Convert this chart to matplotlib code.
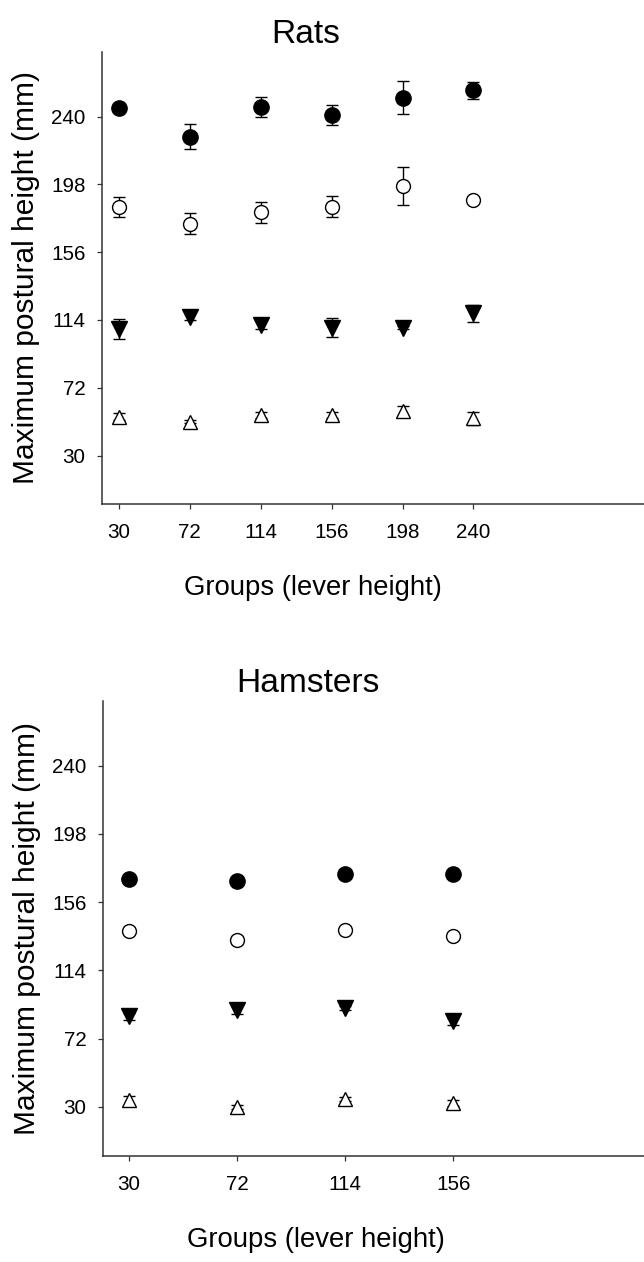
import numpy as np
import matplotlib
matplotlib.use('Agg')
import matplotlib.pyplot as plt
from matplotlib import font_manager

# --- data (mm) ---
rat_groups = [30, 72, 114, 156, 198, 240]
rat_filled_circle = [245.6, 227.6, 246.0, 241.0, 251.7, 256.3]
rat_filled_circle_err = [1.5, 7.9, 6.0, 6.0, 10.3, 5.2]
rat_open_circle = [184.2, 173.7, 180.7, 184.2, 197.0, 188.4]
rat_open_circle_err = [6.2, 6.6, 6.6, 6.7, 11.5, 1.5]
rat_down_tri = [108.2, 116.1, 110.7, 109.3, 109.3, 118.1]
rat_down_tri_err = [6.1, 2.0, 2.6, 5.7, 1.0, 5.1]
rat_up_tri = [54.1, 51.0, 55.1, 55.1, 57.4, 53.1]
rat_up_tri_err = [2.0, 1.0, 2.0, 2.0, 3.0, 4.1]

ham_groups = [30, 72, 114, 156]
ham_filled_circle = [170.1, 168.9, 173.6, 173.6]
ham_filled_circle_err = [2.0, 1.5, 1.5, 1.5]
ham_open_circle = [138.2, 132.7, 138.8, 135.2]
ham_open_circle_err = [1.5, 2.5, 1.5, 1.5]
ham_down_tri = [85.8, 89.9, 90.9, 82.7]
ham_down_tri_err = [2.0, 3.0, 1.5, 2.0]
ham_up_tri = [34.0, 30.0, 34.9, 32.5]
ham_up_tri_err = [2.5, 1.0, 1.5, 2.0]

y_ticks = [30, 72, 114, 156, 198, 240]

# narrow face for horizontal text if we have it
names = set(f.name for f in font_manager.fontManager.ttflist)
if 'Liberation Sans Narrow' in names:
    hfont = 'Liberation Sans Narrow'
    hscale = 1.0
    tscale = 1.0
else:
    hfont = 'Liberation Sans'
    hscale = 0.86
    tscale = 0.9

plt.rcParams['font.family'] = hfont
plt.rcParams['xtick.labelsize'] = 16.5 * tscale
plt.rcParams['ytick.labelsize'] = 16.5 * tscale
plt.rcParams['xtick.major.pad'] = 10.5
plt.rcParams['ytick.major.pad'] = 8.5


def add_series(ax, x, y, err, marker, filled, ms):
    ax.errorbar(x, y, yerr=err, fmt='none', ecolor='black', elinewidth=1.0,
                capsize=4.5, capthick=1.0, zorder=2)
    ax.plot(x, y, linestyle='none', marker=marker, markersize=ms,
            markerfacecolor='black' if filled else 'white',
            markeredgecolor='black', markeredgewidth=1.0, zorder=3)


def style_axis(ax, xticks, xlim, title, title_x, xlabel_x):
    ax.set_xlim(*xlim)
    ax.set_ylim(0, 280)
    ax.set_xticks(xticks)
    ax.set_yticks(y_ticks)
    for s in ['top', 'right']:
        ax.spines[s].set_visible(False)
    for s in ['left', 'bottom']:
        ax.spines[s].set_linewidth(1.1)
        ax.spines[s].set_color('#333333')
    ax.tick_params(axis='both', direction='out', length=3.5, width=0.9,
                   color='#333333')
    ax.set_ylabel('Maximum postural height (mm)', fontsize=21.5,
                  family='Liberation Sans')
    ax.yaxis.set_label_coords(-0.115, 0.5)
    ax.set_xlabel('Groups (lever height)', fontsize=23 * hscale, family=hfont)
    ax.xaxis.set_label_coords(xlabel_x, -0.156)
    ax.text(title_x, 1.02, title, transform=ax.transAxes, ha='center',
            va='baseline', fontsize=28 * hscale, family=hfont)


fig = plt.figure(figsize=(6.44, 12.62), dpi=100)
ax1 = fig.add_axes([102 / 644, 1 - 504 / 1262, 1 - 102 / 644, 452 / 1262])
ax2 = fig.add_axes([103 / 644, 1 - 1155.7 / 1262, 1 - 103 / 644, 455 / 1262])

add_series(ax1, rat_groups, rat_filled_circle, rat_filled_circle_err, 'o', True, 11)
add_series(ax1, rat_groups, rat_open_circle, rat_open_circle_err, 'o', False, 10)
add_series(ax1, rat_groups, rat_down_tri, rat_down_tri_err, 'v', True, 11.5)
add_series(ax1, rat_groups, rat_up_tri, rat_up_tri_err, '^', False, 10.5)
style_axis(ax1, rat_groups, (20, 341), 'Rats', 0.376, 0.389)

add_series(ax2, ham_groups, ham_filled_circle, ham_filled_circle_err, 'o', True, 11)
add_series(ax2, ham_groups, ham_open_circle, ham_open_circle_err, 'o', False, 10)
add_series(ax2, ham_groups, ham_down_tri, ham_down_tri_err, 'v', True, 11.5)
add_series(ax2, ham_groups, ham_up_tri, ham_up_tri_err, '^', False, 10.5)
style_axis(ax2, ham_groups, (20, 230), 'Hamsters', 0.378, 0.393)

plt.savefig('out.png', dpi=100)
